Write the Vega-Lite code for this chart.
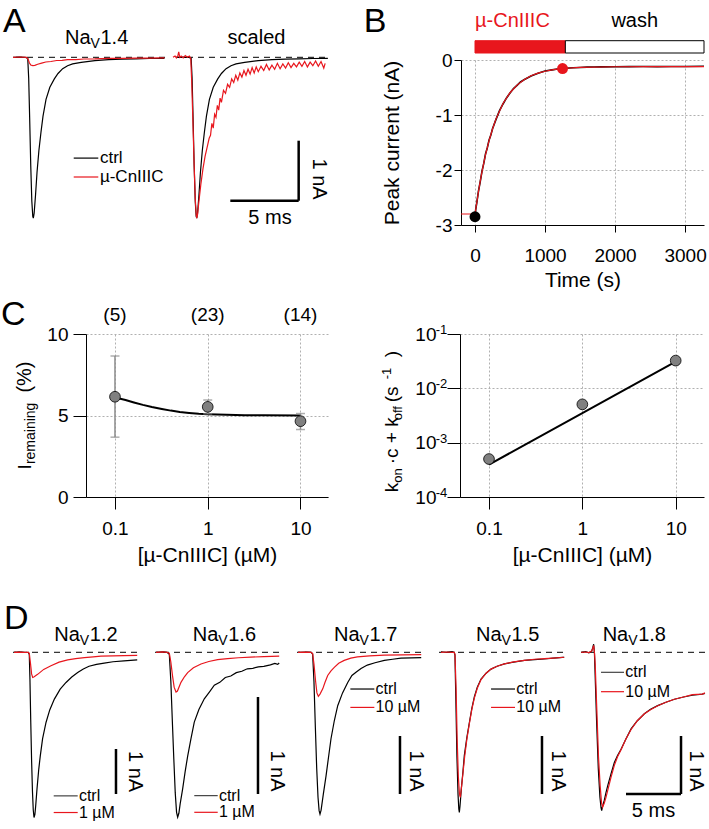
{
"$schema": "https://vega.github.io/schema/vega-lite/v6.json",
"padding": 0,
"background": "white",
"config": {
 "font": "Liberation Sans",
 "view": {"stroke": null},
 "text": {"font": "Liberation Sans", "color": "black"},
 "axis": {"domainColor": "black", "tickColor": "black", "labelColor": "black", "titleColor": "black", "labelFont": "Liberation Sans", "titleFont": "Liberation Sans", "titleFontWeight": "normal", "labelFontSize": 19, "titleFontSize": 21, "gridDash": [2, 2], "gridColor": "#b0b0b0", "gridWidth": 1, "labelFlush": false, "labelOverlap": false}
},
"datasets": {
 "one": [{}],
 "sup": [{"k":0.1,"s":"-1"},{"k":0.01,"s":"-2"},{"k":0.001,"s":"-3"},{"k":0.0001,"s":"-4"}],
 "a14c": [{"t":0,"I":0},{"t":0.5,"I":0.003},{"t":0.9,"I":0},{"t":1.08,"I":-0.02},{"t":1.15,"I":-0.35},{"t":1.22,"I":-1.0},{"t":1.3,"I":-1.8},{"t":1.38,"I":-2.4},{"t":1.45,"I":-2.65},{"t":1.49,"I":-2.68},{"t":1.55,"I":-2.6},{"t":1.65,"I":-2.3},{"t":1.76,"I":-1.92},{"t":1.9,"I":-1.55},{"t":2.05,"I":-1.25},{"t":2.2,"I":-0.98},{"t":2.42,"I":-0.7},{"t":2.7,"I":-0.5},{"t":3.03,"I":-0.36},{"t":3.3,"I":-0.27},{"t":3.64,"I":-0.19},{"t":4.0,"I":-0.14},{"t":4.37,"I":-0.11},{"t":5.0,"I":-0.085},{"t":6.0,"I":-0.055},{"t":7.0,"I":-0.04},{"t":8.0,"I":-0.03},{"t":9.0,"I":-0.025},{"t":10.0,"I":-0.02},{"t":11.1,"I":-0.017}],
 "a14t": [{"t":0,"I":0},{"t":0.5,"I":0.005},{"t":1.0,"I":0},{"t":1.1,"I":-0.03},{"t":1.2,"I":-0.09},{"t":1.3,"I":-0.13},{"t":1.45,"I":-0.14},{"t":1.6,"I":-0.135},{"t":1.81,"I":-0.115},{"t":2.1,"I":-0.097},{"t":2.4,"I":-0.078},{"t":2.78,"I":-0.07},{"t":3.2,"I":-0.053},{"t":3.6,"I":-0.05},{"t":4.0,"I":-0.04},{"t":4.6,"I":-0.038},{"t":5.2,"I":-0.028},{"t":6.0,"I":-0.027},{"t":7.0,"I":-0.019},{"t":8.0,"I":-0.019},{"t":9.0,"I":-0.013},{"t":10.0,"I":-0.014},{"t":11.1,"I":-0.01}],
 "a14s": [{"t":-0.25,"I":0.0},{"t":-0.1,"I":0.02},{"t":0.0,"I":-0.01},{"t":0.1,"I":0.02},{"t":0.17,"I":0.09},{"t":0.25,"I":0.0},{"t":0.35,"I":0.02},{"t":0.5,"I":-0.01},{"t":0.65,"I":0.03},{"t":0.8,"I":0.0},{"t":0.95,"I":0.02},{"t":1.05,"I":-0.02},{"t":1.12,"I":-0.4},{"t":1.2,"I":-1.0},{"t":1.3,"I":-1.8},{"t":1.38,"I":-2.35},{"t":1.45,"I":-2.62},{"t":1.49,"I":-2.68},{"t":1.55,"I":-2.62},{"t":1.65,"I":-2.4},{"t":1.8,"I":-2.1},{"t":1.95,"I":-1.85},{"t":2.1,"I":-1.65},{"t":2.25,"I":-1.5},{"t":2.4,"I":-1.35},{"t":2.5,"I":-1.3},{"t":2.6,"I":-1.1},{"t":2.7,"I":-1.18},{"t":2.8,"I":-0.95},{"t":2.9,"I":-1.0},{"t":3.0,"I":-0.8},{"t":3.1,"I":-0.88},{"t":3.2,"I":-0.68},{"t":3.3,"I":-0.75},{"t":3.45,"I":-0.55},{"t":3.6,"I":-0.6},{"t":3.75,"I":-0.45},{"t":3.9,"I":-0.5},{"t":4.05,"I":-0.36},{"t":4.2,"I":-0.42},{"t":4.35,"I":-0.3},{"t":4.5,"I":-0.38},{"t":4.65,"I":-0.26},{"t":4.8,"I":-0.33},{"t":4.95,"I":-0.22},{"t":5.1,"I":-0.3},{"t":5.25,"I":-0.2},{"t":5.4,"I":-0.28},{"t":5.55,"I":-0.17},{"t":5.7,"I":-0.26},{"t":5.85,"I":-0.16},{"t":6.0,"I":-0.24},{"t":6.2,"I":-0.15},{"t":6.4,"I":-0.22},{"t":6.6,"I":-0.12},{"t":6.8,"I":-0.21},{"t":7.0,"I":-0.13},{"t":7.2,"I":-0.2},{"t":7.4,"I":-0.1},{"t":7.6,"I":-0.19},{"t":7.8,"I":-0.11},{"t":8.0,"I":-0.18},{"t":8.2,"I":-0.09},{"t":8.4,"I":-0.17},{"t":8.6,"I":-0.1},{"t":8.8,"I":-0.16},{"t":9.0,"I":-0.08},{"t":9.2,"I":-0.15},{"t":9.4,"I":-0.07},{"t":9.6,"I":-0.16},{"t":9.8,"I":-0.08},{"t":10.0,"I":-0.14},{"t":10.2,"I":-0.06},{"t":10.4,"I":-0.15},{"t":10.6,"I":-0.07},{"t":10.8,"I":-0.18},{"t":10.9,"I":-0.1}],
 "b": [{"t":0,"I":-2.85},{"t":10,"I":-2.72},{"t":25,"I":-2.6},{"t":50,"I":-2.38},{"t":75,"I":-2.21},{"t":100,"I":-2.02},{"t":125,"I":-1.88},{"t":150,"I":-1.71},{"t":175,"I":-1.6},{"t":200,"I":-1.46},{"t":225,"I":-1.37},{"t":250,"I":-1.25},{"t":300,"I":-1.08},{"t":350,"I":-0.92},{"t":400,"I":-0.8},{"t":450,"I":-0.69},{"t":500,"I":-0.6},{"t":550,"I":-0.52},{"t":600,"I":-0.46},{"t":650,"I":-0.4},{"t":700,"I":-0.36},{"t":800,"I":-0.29},{"t":900,"I":-0.24},{"t":1000,"I":-0.2},{"t":1100,"I":-0.18},{"t":1200,"I":-0.16},{"t":1300,"I":-0.15},{"t":1400,"I":-0.14},{"t":1500,"I":-0.135},{"t":1600,"I":-0.13},{"t":1700,"I":-0.128},{"t":1800,"I":-0.125},{"t":2000,"I":-0.122},{"t":2200,"I":-0.12},{"t":2400,"I":-0.118},{"t":2600,"I":-0.12},{"t":2800,"I":-0.117},{"t":3000,"I":-0.118},{"t":3270,"I":-0.115}],
 "bfit": [{"t":-200,"I":-2.8},{"t":0,"I":-2.8},{"t":25,"I":-2.596},{"t":50,"I":-2.39},{"t":75,"I":-2.2},{"t":100,"I":-2.03},{"t":150,"I":-1.72},{"t":200,"I":-1.47},{"t":250,"I":-1.254},{"t":300,"I":-1.07},{"t":400,"I":-0.79},{"t":500,"I":-0.595},{"t":600,"I":-0.456},{"t":700,"I":-0.358},{"t":800,"I":-0.287},{"t":900,"I":-0.239},{"t":1000,"I":-0.204},{"t":1100,"I":-0.179},{"t":1200,"I":-0.162},{"t":1300,"I":-0.15},{"t":1500,"I":-0.135},{"t":2000,"I":-0.123},{"t":2500,"I":-0.121},{"t":3000,"I":-0.12},{"t":3270,"I":-0.12}],
 "bpts": [{"state":"before","t":0,"I":-2.85},{"state":"after","t":1250,"I":-0.155}],
 "phases": [{"phase":"µ-CnIIIC","start":0,"end":1290},{"phase":"wash","start":1290,"end":3270}],
 "cI": [{"c":0.1,"v":6.15,"lo":3.67,"hi":8.65,"n":"(5)"},{"c":1,"v":5.53,"lo":5.1,"hi":5.95,"n":"(23)"},{"c":10,"v":4.65,"lo":4.14,"hi":5.12,"n":"(14)"}],
 "cfit": [{"c":0.1,"v":6.1},{"c":0.13,"v":5.95},{"c":0.16,"v":5.8},{"c":0.2,"v":5.65},{"c":0.25,"v":5.52},{"c":0.32,"v":5.4},{"c":0.4,"v":5.3},{"c":0.5,"v":5.22},{"c":0.63,"v":5.16},{"c":0.8,"v":5.11},{"c":1,"v":5.08},{"c":1.6,"v":5.04},{"c":2.5,"v":5.02},{"c":4,"v":5.01},{"c":10,"v":5.0}],
 "kpts": [{"c":0.1,"k":0.0005},{"c":1,"k":0.00507},{"c":10,"k":0.0324}],
 "kfit": [{"c":0.1,"k":0.000395},{"c":1,"k":0.0035},{"c":10,"k":0.031}],
 "d12c": [{"t":0,"I":0},{"t":0.5,"I":0.01},{"t":1.0,"I":-0.005},{"t":1.3,"I":0},{"t":1.39,"I":-0.05},{"t":1.45,"I":-0.6},{"t":1.52,"I":-1.5},{"t":1.6,"I":-2.4},{"t":1.68,"I":-3.1},{"t":1.75,"I":-3.5},{"t":1.82,"I":-3.67},{"t":1.9,"I":-3.6},{"t":1.97,"I":-3.42},{"t":2.09,"I":-3.04},{"t":2.25,"I":-2.6},{"t":2.39,"I":-2.3},{"t":2.6,"I":-1.92},{"t":2.91,"I":-1.56},{"t":3.25,"I":-1.28},{"t":3.67,"I":-1.04},{"t":4.2,"I":-0.82},{"t":4.73,"I":-0.67},{"t":5.25,"I":-0.55},{"t":5.79,"I":-0.45},{"t":6.3,"I":-0.37},{"t":6.82,"I":-0.31},{"t":7.5,"I":-0.27},{"t":8.2,"I":-0.24},{"t":9.0,"I":-0.21},{"t":10.0,"I":-0.19},{"t":11.2,"I":-0.17}],
 "d12t": [{"t":0,"I":0},{"t":0.5,"I":0.005},{"t":1.0,"I":0},{"t":1.3,"I":0},{"t":1.39,"I":-0.02},{"t":1.5,"I":-0.25},{"t":1.6,"I":-0.48},{"t":1.7,"I":-0.56},{"t":1.8,"I":-0.55},{"t":2.15,"I":-0.49},{"t":2.7,"I":-0.38},{"t":3.36,"I":-0.3},{"t":4.1,"I":-0.22},{"t":4.88,"I":-0.17},{"t":5.6,"I":-0.14},{"t":6.4,"I":-0.12},{"t":7.2,"I":-0.1},{"t":7.9,"I":-0.085},{"t":9.0,"I":-0.078},{"t":10.0,"I":-0.072},{"t":11.2,"I":-0.07}],
 "d16c": [{"t":0,"I":0},{"t":0.6,"I":0.005},{"t":1.0,"I":0},{"t":1.21,"I":-0.02},{"t":1.35,"I":-0.3},{"t":1.5,"I":-0.75},{"t":1.62,"I":-1.1},{"t":1.75,"I":-1.45},{"t":1.87,"I":-1.65},{"t":1.97,"I":-1.7},{"t":2.08,"I":-1.66},{"t":2.2,"I":-1.56},{"t":2.42,"I":-1.41},{"t":2.65,"I":-1.23},{"t":2.88,"I":-1.07},{"t":3.18,"I":-0.89},{"t":3.48,"I":-0.72},{"t":3.9,"I":-0.59},{"t":4.39,"I":-0.48},{"t":4.85,"I":-0.41},{"t":5.3,"I":-0.34},{"t":5.8,"I":-0.31},{"t":6.3,"I":-0.26},{"t":6.8,"I":-0.245},{"t":7.3,"I":-0.21},{"t":7.8,"I":-0.195},{"t":8.3,"I":-0.17},{"t":8.8,"I":-0.165},{"t":9.3,"I":-0.15},{"t":9.8,"I":-0.145},{"t":10.4,"I":-0.13},{"t":10.8,"I":-0.115},{"t":11.06,"I":-0.125},{"t":11.2,"I":-0.11}],
 "d16t": [{"t":0,"I":0},{"t":0.6,"I":0.005},{"t":1.0,"I":0},{"t":1.21,"I":-0.01},{"t":1.35,"I":-0.1},{"t":1.5,"I":-0.24},{"t":1.65,"I":-0.36},{"t":1.82,"I":-0.41},{"t":1.95,"I":-0.4},{"t":2.27,"I":-0.31},{"t":2.6,"I":-0.25},{"t":2.88,"I":-0.21},{"t":3.4,"I":-0.16},{"t":4.09,"I":-0.12},{"t":4.8,"I":-0.095},{"t":5.6,"I":-0.076},{"t":6.5,"I":-0.065},{"t":7.5,"I":-0.056},{"t":8.6,"I":-0.05},{"t":9.8,"I":-0.045},{"t":11.2,"I":-0.04}],
 "d17c": [{"t":0,"I":0},{"t":0.7,"I":0.005},{"t":1.2,"I":0},{"t":1.33,"I":-0.03},{"t":1.45,"I":-0.5},{"t":1.58,"I":-1.3},{"t":1.7,"I":-2.0},{"t":1.82,"I":-2.5},{"t":1.92,"I":-2.73},{"t":2.0,"I":-2.79},{"t":2.1,"I":-2.72},{"t":2.3,"I":-2.45},{"t":2.55,"I":-2.13},{"t":2.78,"I":-1.8},{"t":3.0,"I":-1.49},{"t":3.3,"I":-1.18},{"t":3.61,"I":-0.92},{"t":4.05,"I":-0.7},{"t":4.52,"I":-0.52},{"t":4.9,"I":-0.4},{"t":5.3,"I":-0.34},{"t":5.73,"I":-0.28},{"t":6.3,"I":-0.22},{"t":7.0,"I":-0.18},{"t":7.85,"I":-0.14},{"t":8.6,"I":-0.12},{"t":9.36,"I":-0.1},{"t":10.3,"I":-0.095},{"t":11.2,"I":-0.09}],
 "d17t": [{"t":0,"I":0},{"t":0.7,"I":0.003},{"t":1.2,"I":0},{"t":1.33,"I":-0.02},{"t":1.45,"I":-0.2},{"t":1.6,"I":-0.5},{"t":1.72,"I":-0.7},{"t":1.85,"I":-0.76},{"t":2.0,"I":-0.72},{"t":2.25,"I":-0.63},{"t":2.45,"I":-0.52},{"t":2.7,"I":-0.4},{"t":3.0,"I":-0.32},{"t":3.3,"I":-0.26},{"t":3.7,"I":-0.19},{"t":4.2,"I":-0.14},{"t":4.8,"I":-0.1},{"t":5.4,"I":-0.08},{"t":6.5,"I":-0.06},{"t":7.85,"I":-0.05},{"t":9.5,"I":-0.045},{"t":11.2,"I":-0.04}],
 "d15c": [{"t":0,"I":0.01},{"t":0.5,"I":0},{"t":1.0,"I":0.01},{"t":1.2,"I":0},{"t":1.27,"I":-0.05},{"t":1.35,"I":-0.8},{"t":1.45,"I":-1.8},{"t":1.55,"I":-2.45},{"t":1.62,"I":-2.7},{"t":1.67,"I":-2.76},{"t":1.73,"I":-2.65},{"t":1.85,"I":-2.35},{"t":2.0,"I":-2.05},{"t":2.12,"I":-1.78},{"t":2.35,"I":-1.47},{"t":2.58,"I":-1.21},{"t":2.8,"I":-0.97},{"t":3.03,"I":-0.77},{"t":3.3,"I":-0.6},{"t":3.64,"I":-0.46},{"t":4.1,"I":-0.36},{"t":4.55,"I":-0.29},{"t":5.1,"I":-0.24},{"t":5.76,"I":-0.2},{"t":6.6,"I":-0.17},{"t":7.58,"I":-0.14},{"t":8.5,"I":-0.125},{"t":9.4,"I":-0.115},{"t":10.2,"I":-0.1},{"t":11.06,"I":-0.086},{"t":11.2,"I":-0.085}],
 "d15t": [{"t":0,"I":0},{"t":0.5,"I":0.005},{"t":1.0,"I":0},{"t":1.2,"I":0},{"t":1.27,"I":-0.03},{"t":1.37,"I":-0.6},{"t":1.47,"I":-1.5},{"t":1.58,"I":-2.15},{"t":1.68,"I":-2.45},{"t":1.76,"I":-2.5},{"t":1.85,"I":-2.35},{"t":2.0,"I":-2.08},{"t":2.15,"I":-1.8},{"t":2.35,"I":-1.5},{"t":2.58,"I":-1.23},{"t":2.8,"I":-0.99},{"t":3.03,"I":-0.79},{"t":3.3,"I":-0.62},{"t":3.64,"I":-0.47},{"t":4.1,"I":-0.36},{"t":4.55,"I":-0.29},{"t":5.1,"I":-0.24},{"t":5.76,"I":-0.2},{"t":6.6,"I":-0.165},{"t":7.58,"I":-0.14},{"t":8.5,"I":-0.12},{"t":9.4,"I":-0.11},{"t":10.2,"I":-0.1},{"t":11.2,"I":-0.085}],
 "d18c": [{"t":0.2,"I":0},{"t":0.6,"I":0.01},{"t":0.9,"I":-0.01},{"t":1.15,"I":0.02},{"t":1.25,"I":0.08},{"t":1.33,"I":0.14},{"t":1.4,"I":0.0},{"t":1.45,"I":-0.3},{"t":1.6,"I":-1.2},{"t":1.75,"I":-2.0},{"t":1.9,"I":-2.5},{"t":2.0,"I":-2.68},{"t":2.06,"I":-2.73},{"t":2.15,"I":-2.65},{"t":2.3,"I":-2.55},{"t":2.45,"I":-2.42},{"t":2.61,"I":-2.3},{"t":2.9,"I":-2.1},{"t":3.21,"I":-1.9},{"t":3.5,"I":-1.78},{"t":3.82,"I":-1.67},{"t":4.25,"I":-1.5},{"t":4.73,"I":-1.32},{"t":5.3,"I":-1.18},{"t":5.94,"I":-1.06},{"t":6.5,"I":-0.98},{"t":7.15,"I":-0.92},{"t":7.9,"I":-0.86},{"t":8.67,"I":-0.81},{"t":9.5,"I":-0.77},{"t":10.3,"I":-0.74},{"t":11.2,"I":-0.72},{"t":11.45,"I":-0.71}],
 "d18t": [{"t":0.2,"I":0},{"t":0.6,"I":0.005},{"t":0.9,"I":-0.005},{"t":1.15,"I":0.02},{"t":1.25,"I":0.07},{"t":1.33,"I":0.12},{"t":1.4,"I":0.0},{"t":1.47,"I":-0.2},{"t":1.62,"I":-1.0},{"t":1.77,"I":-1.8},{"t":1.92,"I":-2.3},{"t":2.05,"I":-2.6},{"t":2.15,"I":-2.67},{"t":2.3,"I":-2.6},{"t":2.45,"I":-2.5},{"t":2.61,"I":-2.38},{"t":2.9,"I":-2.16},{"t":3.21,"I":-1.95},{"t":3.5,"I":-1.8},{"t":3.82,"I":-1.68},{"t":4.25,"I":-1.5},{"t":4.73,"I":-1.33},{"t":5.3,"I":-1.18},{"t":5.94,"I":-1.06},{"t":6.5,"I":-0.99},{"t":7.15,"I":-0.92},{"t":7.9,"I":-0.86},{"t":8.67,"I":-0.81},{"t":9.5,"I":-0.77},{"t":10.3,"I":-0.73},{"t":11.2,"I":-0.72},{"t":11.45,"I":-0.7}]
},
"spacing": 0,
"vconcat": [
 {"bounds": "flush", "spacing": 0, "hconcat": [
  {"width": 152, "height": 165, "layer": [
   {"data": {"name": "one"}, "mark": {"type": "rule", "strokeDash": [6, 5], "color": "black", "strokeWidth": 1}, "encoding": {"y": {"datum": 0, "axis": null}}},
   {"data": {"name": "a14c"}, "mark": {"type": "line", "color": "black", "strokeWidth": 1.2}, "encoding": {"x": {"field": "t", "type": "quantitative", "scale": {"domain": [0, 11.14], "nice": false, "zero": false}, "axis": null}, "y": {"field": "I", "type": "quantitative", "scale": {"domain": [-2.795, -0.045], "nice": false, "zero": false}, "axis": null}}},
   {"data": {"name": "a14t"}, "mark": {"type": "line", "color": "#e8161d", "strokeWidth": 1.2}, "encoding": {"x": {"field": "t", "type": "quantitative", "axis": null}, "y": {"field": "I", "type": "quantitative", "axis": null}}},
   {"data": {"name": "one"}, "mark": {"type": "rule", "opacity": 0, "strokeWidth": 0}, "encoding": {"x": {"datum": -0.879, "axis": null}, "y": {"datum": 0.955, "axis": null}, "y2": {"datum": 0.955}}},
   {"data": {"name": "one"}, "mark": {"type": "rule", "opacity": 0, "strokeWidth": 0}, "encoding": {"x": {"datum": 5, "axis": null}, "y": {"datum": -3.962, "axis": null}, "y2": {"datum": -3.962}}},
   {"data": {"name": "one"}, "mark": {"type": "rule", "color": "black", "strokeWidth": 1.2}, "encoding": {"x": {"datum": 4.45, "axis": null}, "x2": {"datum": 6.25}, "y": {"datum": -1.68, "axis": null}}},
   {"data": {"name": "one"}, "mark": {"type": "rule", "color": "#e8161d", "strokeWidth": 1.2}, "encoding": {"x": {"datum": 4.45, "axis": null}, "x2": {"datum": 6.25}, "y": {"datum": -1.995, "axis": null}}},
   {"data": {"name": "one"}, "mark": {"type": "text", "text": "ctrl", "fontSize": 17, "align": "left", "baseline": "middle"}, "encoding": {"x": {"datum": 6.37, "axis": null}, "y": {"datum": -1.68, "axis": null}}},
   {"data": {"name": "one"}, "mark": {"type": "text", "text": "µ-CnIIIC", "fontSize": 17, "align": "left", "baseline": "middle"}, "encoding": {"x": {"datum": 6.37, "axis": null}, "y": {"datum": -1.995, "axis": null}}},
   {"data": {"name": "one"}, "mark": {"type": "text", "text": "Na", "fontSize": 20, "align": "left", "baseline": "alphabetic"}, "encoding": {"x": {"datum": 3.81, "axis": null}, "y": {"datum": 0.222, "axis": null}}},
   {"data": {"name": "one"}, "mark": {"type": "text", "text": "V", "fontSize": 14, "align": "left", "baseline": "alphabetic", "dx": 25.6, "dy": 4}, "encoding": {"x": {"datum": 3.81, "axis": null}, "y": {"datum": 0.222, "axis": null}}},
   {"data": {"name": "one"}, "mark": {"type": "text", "text": "1.4", "fontSize": 20, "align": "left", "baseline": "alphabetic", "dx": 35.5}, "encoding": {"x": {"datum": 3.81, "axis": null}, "y": {"datum": 0.222, "axis": null}}},
   {"data": {"name": "one"}, "mark": {"type": "text", "text": "A", "fontSize": 34, "align": "left", "baseline": "alphabetic"}, "encoding": {"x": {"datum": -0.73, "axis": null}, "y": {"datum": 0.42, "axis": null}}}
  ]},
  {"width": 8, "height": 1, "data": {"name": "one"}, "mark": {"type": "point", "opacity": 0}},
  {"width": 152, "height": 165, "layer": [
   {"data": {"name": "one"}, "mark": {"type": "rule", "strokeDash": [6, 5], "color": "black", "strokeWidth": 1}, "encoding": {"y": {"datum": 0, "axis": null}}},
   {"data": {"name": "a14c"}, "mark": {"type": "line", "color": "black", "strokeWidth": 1.2}, "encoding": {"x": {"field": "t", "type": "quantitative", "scale": {"domain": [-0.25, 10.89], "nice": false, "zero": false}, "axis": null}, "y": {"field": "I", "type": "quantitative", "scale": {"domain": [-2.795, -0.045], "nice": false, "zero": false}, "axis": null}}},
   {"data": {"name": "a14s"}, "mark": {"type": "line", "color": "#e8161d", "strokeWidth": 1.2}, "encoding": {"x": {"field": "t", "type": "quantitative", "axis": null}, "y": {"field": "I", "type": "quantitative", "axis": null}}},
   {"data": {"name": "one"}, "mark": {"type": "rule", "color": "black", "strokeWidth": 2.5}, "encoding": {"x": {"datum": 8.96, "axis": null}, "y": {"datum": -1.39, "axis": null}, "y2": {"datum": -2.39}}},
   {"data": {"name": "one"}, "mark": {"type": "rule", "color": "black", "strokeWidth": 2.5}, "encoding": {"x": {"datum": 3.95, "axis": null}, "x2": {"datum": 8.96}, "y": {"datum": -2.39, "axis": null}}},
   {"data": {"name": "one"}, "mark": {"type": "text", "text": "1 nA", "fontSize": 20, "angle": 90, "align": "center", "baseline": "middle"}, "encoding": {"x": {"datum": 10.45, "axis": null}, "y": {"datum": -2.03, "axis": null}}},
   {"data": {"name": "one"}, "mark": {"type": "text", "text": "5 ms", "fontSize": 20, "align": "center", "baseline": "top"}, "encoding": {"x": {"datum": 6.86, "axis": null}, "y": {"datum": -2.51, "axis": null}}},
   {"data": {"name": "one"}, "mark": {"type": "text", "text": "scaled", "fontSize": 20, "align": "center", "baseline": "alphabetic"}, "encoding": {"x": {"datum": 5.87, "axis": null}, "y": {"datum": 0.222, "axis": null}}}
  ]},
  {"width": 136, "height": 1, "data": {"name": "one"}, "mark": {"type": "point", "opacity": 0}},
  {"width": 243, "height": 165, "layer": [
   {"data": {"name": "b"}, "mark": {"type": "line", "color": "black", "strokeWidth": 1.6}, "encoding": {"x": {"field": "t", "type": "quantitative", "scale": {"domain": [-200, 3270], "nice": false, "zero": false}, "axis": {"values": [0, 1000, 2000, 3000], "format": "d", "title": "Time (s)", "grid": true, "tickSize": 7, "labelPadding": 14, "titlePadding": 4}}, "y": {"field": "I", "type": "quantitative", "scale": {"domain": [-3, 0], "nice": false, "zero": false}, "axis": {"values": [0, -1, -2, -3], "labelExpr": "datum.value < 0 ? '-' + (-datum.value) : '0'", "title": "Peak current (nA)", "grid": true, "tickSize": 7, "labelPadding": 2, "titlePadding": 33}}}},
   {"data": {"name": "bfit"}, "mark": {"type": "line", "color": "#e8161d", "strokeWidth": 1.2}, "encoding": {"x": {"field": "t", "type": "quantitative"}, "y": {"field": "I", "type": "quantitative"}}},
   {"data": {"name": "bpts"}, "mark": {"type": "circle", "size": 120, "opacity": 1}, "encoding": {"x": {"field": "t", "type": "quantitative"}, "y": {"field": "I", "type": "quantitative"}, "color": {"field": "state", "type": "nominal", "scale": {"domain": ["before", "after"], "range": ["#000000", "#e8161d"]}, "legend": null}}},
   {"data": {"name": "phases"}, "mark": {"type": "rect", "strokeWidth": 1}, "encoding": {"x": {"field": "start", "type": "quantitative"}, "x2": {"field": "end"}, "y": {"datum": 0.127}, "y2": {"datum": 0.351}, "fill": {"field": "phase", "type": "nominal", "scale": {"domain": ["µ-CnIIIC", "wash"], "range": ["#e8161d", "#ffffff"]}, "legend": null}, "stroke": {"field": "phase", "type": "nominal", "scale": {"domain": ["µ-CnIIIC", "wash"], "range": ["#e8161d", "#000000"]}, "legend": null}}},
   {"data": {"name": "one"}, "mark": {"type": "text", "text": "µ-CnIIIC", "fontSize": 20, "color": "#e8161d", "align": "left", "baseline": "alphabetic"}, "encoding": {"x": {"datum": 0}, "y": {"datum": 0.595}}},
   {"data": {"name": "one"}, "mark": {"type": "text", "text": "wash", "fontSize": 20, "align": "center", "baseline": "alphabetic"}, "encoding": {"x": {"datum": 2281}, "y": {"datum": 0.595}}},
   {"data": {"name": "one"}, "mark": {"type": "text", "text": "B", "fontSize": 34, "align": "left", "baseline": "alphabetic"}, "encoding": {"x": {"datum": -1590}, "y": {"datum": 0.509}}}
  ]}
 ]},
 {"bounds": "flush", "spacing": 0, "hconcat": [
  {"width": 73, "height": 1, "data": {"name": "one"}, "mark": {"type": "point", "opacity": 0}},
  {"width": 242, "height": 163, "layer": [
   {"data": {"name": "cfit"}, "mark": {"type": "line", "color": "black", "strokeWidth": 2}, "encoding": {"x": {"field": "c", "type": "quantitative", "scale": {"type": "log", "domain": [0.0487, 19.8], "nice": false}, "axis": {"values": [0.1, 1, 10], "format": "~g", "title": "[µ-CnIIIC] (µM)", "grid": true, "tickSize": 12, "labelPadding": 10, "titlePadding": 6}}, "y": {"field": "v", "type": "quantitative", "scale": {"domain": [0, 10], "nice": false, "zero": false}, "axis": {"values": [0, 5, 10], "title": null, "grid": true, "tickSize": 13, "labelPadding": 5}}}},
   {"data": {"name": "cI"}, "mark": {"type": "rule", "color": "#8c8c8c", "strokeWidth": 1.5}, "encoding": {"x": {"field": "c", "type": "quantitative"}, "y": {"field": "lo", "type": "quantitative"}, "y2": {"field": "hi"}}},
   {"data": {"name": "cI"}, "mark": {"type": "tick", "orient": "horizontal", "color": "#8c8c8c", "size": 9, "thickness": 1.5}, "encoding": {"x": {"field": "c", "type": "quantitative"}, "y": {"field": "lo", "type": "quantitative"}}},
   {"data": {"name": "cI"}, "mark": {"type": "tick", "orient": "horizontal", "color": "#8c8c8c", "size": 9, "thickness": 1.5}, "encoding": {"x": {"field": "c", "type": "quantitative"}, "y": {"field": "hi", "type": "quantitative"}}},
   {"data": {"name": "cI"}, "mark": {"type": "circle", "size": 115, "fill": "#808080", "stroke": "black", "strokeWidth": 0.8, "opacity": 1}, "encoding": {"x": {"field": "c", "type": "quantitative"}, "y": {"field": "v", "type": "quantitative"}}},
   {"data": {"name": "cI"}, "mark": {"type": "text", "fontSize": 19, "align": "center", "baseline": "alphabetic"}, "encoding": {"x": {"field": "c", "type": "quantitative"}, "y": {"datum": 10.8}, "text": {"field": "n"}}},
   {"data": {"name": "one"}, "mark": {"type": "rule", "opacity": 0, "strokeWidth": 0}, "encoding": {"x": {"datum": 0.00589}, "y": {"datum": 12.33}, "y2": {"datum": 12.33}}},
   {"data": {"name": "one"}, "mark": {"type": "rule", "opacity": 0, "strokeWidth": 0}, "encoding": {"x": {"datum": 1}, "y": {"datum": -6.196}, "y2": {"datum": -6.196}}},
   {"data": {"name": "one"}, "mark": {"type": "text", "text": "I", "fontSize": 19, "angle": 270, "align": "left", "baseline": "alphabetic"}, "encoding": {"x": {"datum": 0.0124}, "y": {"datum": 1.68}}},
   {"data": {"name": "one"}, "mark": {"type": "text", "text": "remaining", "fontSize": 14, "angle": 270, "align": "left", "baseline": "alphabetic", "dx": 5.5, "dy": 4}, "encoding": {"x": {"datum": 0.0124}, "y": {"datum": 1.68}}},
   {"data": {"name": "one"}, "mark": {"type": "text", "text": "(%)", "fontSize": 20, "angle": 270, "align": "left", "baseline": "alphabetic", "dx": 77}, "encoding": {"x": {"datum": 0.0124}, "y": {"datum": 1.68}}},
   {"data": {"name": "one"}, "mark": {"type": "text", "text": "C", "fontSize": 34, "align": "left", "baseline": "alphabetic"}, "encoding": {"x": {"datum": 0.00589}, "y": {"datum": 10.55}}}
  ]},
  {"width": 132, "height": 1, "data": {"name": "one"}, "mark": {"type": "point", "opacity": 0}},
  {"width": 244, "height": 163, "layer": [
   {"data": {"name": "kfit"}, "mark": {"type": "line", "color": "black", "strokeWidth": 2}, "encoding": {"x": {"field": "c", "type": "quantitative", "scale": {"type": "log", "domain": [0.0489, 20.1], "nice": false}, "axis": {"values": [0.1, 1, 10], "format": "~g", "title": "[µ-CnIIIC] (µM)", "grid": true, "tickSize": 12, "labelPadding": 10, "titlePadding": 6}}, "y": {"field": "k", "type": "quantitative", "scale": {"type": "log", "domain": [0.0001, 0.1], "nice": false}, "axis": {"values": [0.1, 0.01, 0.001, 0.0001], "labelExpr": "'10'", "title": null, "grid": true, "tickSize": 13, "labelPadding": 11}}}},
   {"data": {"name": "kpts"}, "mark": {"type": "circle", "size": 115, "fill": "#808080", "stroke": "black", "strokeWidth": 0.8, "opacity": 1}, "encoding": {"x": {"field": "c", "type": "quantitative"}, "y": {"field": "k", "type": "quantitative"}}},
   {"data": {"name": "sup"}, "mark": {"type": "text", "fontSize": 13, "align": "left", "baseline": "alphabetic", "dy": 0}, "encoding": {"x": {"datum": 0.02685}, "y": {"field": "k", "type": "quantitative"}, "text": {"field": "s"}}},
   {"data": {"name": "one"}, "mark": {"type": "text", "text": "k", "fontSize": 19, "angle": 270, "align": "left", "baseline": "alphabetic"}, "encoding": {"x": {"datum": 0.0105}, "y": {"datum": 0.000122}}},
   {"data": {"name": "one"}, "mark": {"type": "text", "text": "on", "fontSize": 13, "angle": 270, "align": "left", "baseline": "alphabetic", "dx": 9.5, "dy": 4}, "encoding": {"x": {"datum": 0.0105}, "y": {"datum": 0.000122}}},
   {"data": {"name": "one"}, "mark": {"type": "text", "text": "·c + k", "fontSize": 19, "angle": 270, "align": "left", "baseline": "alphabetic", "dx": 28}, "encoding": {"x": {"datum": 0.0105}, "y": {"datum": 0.000122}}},
   {"data": {"name": "one"}, "mark": {"type": "text", "text": "off", "fontSize": 13, "angle": 270, "align": "left", "baseline": "alphabetic", "dx": 72, "dy": 4}, "encoding": {"x": {"datum": 0.0105}, "y": {"datum": 0.000122}}},
   {"data": {"name": "one"}, "mark": {"type": "text", "text": "(s", "fontSize": 19, "angle": 270, "align": "left", "baseline": "alphabetic", "dx": 90}, "encoding": {"x": {"datum": 0.0105}, "y": {"datum": 0.000122}}},
   {"data": {"name": "one"}, "mark": {"type": "text", "text": "-1", "fontSize": 13, "angle": 270, "align": "left", "baseline": "alphabetic", "dx": 113, "dy": -7}, "encoding": {"x": {"datum": 0.0105}, "y": {"datum": 0.000122}}},
   {"data": {"name": "one"}, "mark": {"type": "text", "text": ")", "fontSize": 19, "angle": 270, "align": "left", "baseline": "alphabetic", "dx": 135}, "encoding": {"x": {"datum": 0.0105}, "y": {"datum": 0.000122}}}
  ]}
 ]},
 {"bounds": "flush", "spacing": 18, "hconcat": [
  {"width": 124, "height": 170, "layer": [
   {"data": {"name": "one"}, "mark": {"type": "rule", "strokeDash": [6, 5], "color": "black", "strokeWidth": 1}, "encoding": {"y": {"datum": 0, "axis": null}}},
   {"data": {"name": "d12c"}, "mark": {"type": "line", "color": "black", "strokeWidth": 1.2}, "encoding": {"x": {"field": "t", "type": "quantitative", "scale": {"domain": [-0.09, 11.18], "nice": false, "zero": false}, "axis": null}, "y": {"field": "I", "type": "quantitative", "scale": {"domain": [-3.704, 0.073], "nice": false, "zero": false}, "axis": null}}},
   {"data": {"name": "d12t"}, "mark": {"type": "line", "color": "#e8161d", "strokeWidth": 1.2}, "encoding": {"x": {"field": "t", "type": "quantitative", "axis": null}, "y": {"field": "I", "type": "quantitative", "axis": null}}},
   {"data": {"name": "one"}, "mark": {"type": "rule", "opacity": 0, "strokeWidth": 0}, "encoding": {"x": {"datum": -1.181, "axis": null}, "y": {"datum": 1.184, "axis": null}, "y2": {"datum": 1.184}}},
   {"data": {"name": "one"}, "mark": {"type": "rule", "color": "black", "strokeWidth": 2.5}, "encoding": {"x": {"datum": 9.27, "axis": null}, "y": {"datum": -3.149, "axis": null}, "y2": {"datum": -2.149}}},
   {"data": {"name": "one"}, "mark": {"type": "text", "text": "1 nA", "fontSize": 20, "angle": 90, "align": "center", "baseline": "middle"}, "encoding": {"x": {"datum": 11.0, "axis": null}, "y": {"datum": -2.65, "axis": null}}},
   {"data": {"name": "one"}, "mark": {"type": "rule", "color": "#444444", "strokeWidth": 1.2}, "encoding": {"x": {"datum": 3.61, "axis": null}, "x2": {"datum": 5.79}, "y": {"datum": -3.19, "axis": null}}},
   {"data": {"name": "one"}, "mark": {"type": "rule", "color": "#e8161d", "strokeWidth": 1.2}, "encoding": {"x": {"datum": 3.61, "axis": null}, "x2": {"datum": 5.79}, "y": {"datum": -3.56, "axis": null}}},
   {"data": {"name": "one"}, "mark": {"type": "text", "text": "ctrl", "fontSize": 16, "align": "left", "baseline": "middle"}, "encoding": {"x": {"datum": 5.9, "axis": null}, "y": {"datum": -3.19, "axis": null}}},
   {"data": {"name": "one"}, "mark": {"type": "text", "text": "1 µM", "fontSize": 16, "align": "left", "baseline": "middle"}, "encoding": {"x": {"datum": 5.9, "axis": null}, "y": {"datum": -3.56, "axis": null}}},
   {"data": {"name": "one"}, "mark": {"type": "text", "text": "Na", "fontSize": 20, "align": "left", "baseline": "alphabetic"}, "encoding": {"x": {"datum": 3.66, "axis": null}, "y": {"datum": 0.251, "axis": null}}},
   {"data": {"name": "one"}, "mark": {"type": "text", "text": "V", "fontSize": 14, "align": "left", "baseline": "alphabetic", "dx": 25.6, "dy": 4}, "encoding": {"x": {"datum": 3.66, "axis": null}, "y": {"datum": 0.251, "axis": null}}},
   {"data": {"name": "one"}, "mark": {"type": "text", "text": "1.2", "fontSize": 20, "align": "left", "baseline": "alphabetic", "dx": 35.5}, "encoding": {"x": {"datum": 3.66, "axis": null}, "y": {"datum": 0.251, "axis": null}}},
   {"data": {"name": "one"}, "mark": {"type": "text", "text": "D", "fontSize": 34, "align": "left", "baseline": "alphabetic"}, "encoding": {"x": {"datum": -0.91, "axis": null}, "y": {"datum": 0.518, "axis": null}}}
  ]},
  {"width": 124, "height": 170, "layer": [
   {"data": {"name": "one"}, "mark": {"type": "rule", "strokeDash": [6, 5], "color": "black", "strokeWidth": 1}, "encoding": {"y": {"datum": 0, "axis": null}}},
   {"data": {"name": "d16c"}, "mark": {"type": "line", "color": "black", "strokeWidth": 1.2}, "encoding": {"x": {"field": "t", "type": "quantitative", "scale": {"domain": [-0.09, 11.18], "nice": false, "zero": false}, "axis": null}, "y": {"field": "I", "type": "quantitative", "scale": {"domain": [-1.719, 0.034], "nice": false, "zero": false}, "axis": null}}},
   {"data": {"name": "d16t"}, "mark": {"type": "line", "color": "#e8161d", "strokeWidth": 1.2}, "encoding": {"x": {"field": "t", "type": "quantitative", "axis": null}, "y": {"field": "I", "type": "quantitative", "axis": null}}},
   {"data": {"name": "one"}, "mark": {"type": "rule", "color": "black", "strokeWidth": 2.5}, "encoding": {"x": {"datum": 9.27, "axis": null}, "y": {"datum": -1.461, "axis": null}, "y2": {"datum": -0.461}}},
   {"data": {"name": "one"}, "mark": {"type": "text", "text": "1 nA", "fontSize": 20, "angle": 90, "align": "center", "baseline": "middle"}, "encoding": {"x": {"datum": 11.0, "axis": null}, "y": {"datum": -1.224, "axis": null}}},
   {"data": {"name": "one"}, "mark": {"type": "rule", "color": "#444444", "strokeWidth": 1.2}, "encoding": {"x": {"datum": 3.48, "axis": null}, "x2": {"datum": 5.61}, "y": {"datum": -1.478, "axis": null}}},
   {"data": {"name": "one"}, "mark": {"type": "rule", "color": "#e8161d", "strokeWidth": 1.2}, "encoding": {"x": {"datum": 3.48, "axis": null}, "x2": {"datum": 5.61}, "y": {"datum": -1.65, "axis": null}}},
   {"data": {"name": "one"}, "mark": {"type": "text", "text": "ctrl", "fontSize": 16, "align": "left", "baseline": "middle"}, "encoding": {"x": {"datum": 5.72, "axis": null}, "y": {"datum": -1.478, "axis": null}}},
   {"data": {"name": "one"}, "mark": {"type": "text", "text": "1 µM", "fontSize": 16, "align": "left", "baseline": "middle"}, "encoding": {"x": {"datum": 5.72, "axis": null}, "y": {"datum": -1.65, "axis": null}}},
   {"data": {"name": "one"}, "mark": {"type": "text", "text": "Na", "fontSize": 20, "align": "left", "baseline": "alphabetic"}, "encoding": {"x": {"datum": 3.34, "axis": null}, "y": {"datum": 0.1165, "axis": null}}},
   {"data": {"name": "one"}, "mark": {"type": "text", "text": "V", "fontSize": 14, "align": "left", "baseline": "alphabetic", "dx": 25.6, "dy": 4}, "encoding": {"x": {"datum": 3.34, "axis": null}, "y": {"datum": 0.1165, "axis": null}}},
   {"data": {"name": "one"}, "mark": {"type": "text", "text": "1.6", "fontSize": 20, "align": "left", "baseline": "alphabetic", "dx": 35.5}, "encoding": {"x": {"datum": 3.34, "axis": null}, "y": {"datum": 0.1165, "axis": null}}}
  ]},
  {"width": 124, "height": 170, "layer": [
   {"data": {"name": "one"}, "mark": {"type": "rule", "strokeDash": [6, 5], "color": "black", "strokeWidth": 1}, "encoding": {"y": {"datum": 0, "axis": null}}},
   {"data": {"name": "d17c"}, "mark": {"type": "line", "color": "black", "strokeWidth": 1.2}, "encoding": {"x": {"field": "t", "type": "quantitative", "scale": {"domain": [-0.09, 11.18], "nice": false, "zero": false}, "axis": null}, "y": {"field": "I", "type": "quantitative", "scale": {"domain": [-2.874, 0.057], "nice": false, "zero": false}, "axis": null}}},
   {"data": {"name": "d17t"}, "mark": {"type": "line", "color": "#e8161d", "strokeWidth": 1.2}, "encoding": {"x": {"field": "t", "type": "quantitative", "axis": null}, "y": {"field": "I", "type": "quantitative", "axis": null}}},
   {"data": {"name": "one"}, "mark": {"type": "rule", "color": "black", "strokeWidth": 2.5}, "encoding": {"x": {"datum": 9.27, "axis": null}, "y": {"datum": -2.443, "axis": null}, "y2": {"datum": -1.443}}},
   {"data": {"name": "one"}, "mark": {"type": "text", "text": "1 nA", "fontSize": 20, "angle": 90, "align": "center", "baseline": "middle"}, "encoding": {"x": {"datum": 10.7, "axis": null}, "y": {"datum": -2.047, "axis": null}}},
   {"data": {"name": "one"}, "mark": {"type": "rule", "color": "black", "strokeWidth": 1.2}, "encoding": {"x": {"datum": 4.76, "axis": null}, "x2": {"datum": 6.94}, "y": {"datum": -0.633, "axis": null}}},
   {"data": {"name": "one"}, "mark": {"type": "rule", "color": "#e8161d", "strokeWidth": 1.2}, "encoding": {"x": {"datum": 4.76, "axis": null}, "x2": {"datum": 6.94}, "y": {"datum": -0.95, "axis": null}}},
   {"data": {"name": "one"}, "mark": {"type": "text", "text": "ctrl", "fontSize": 16, "align": "left", "baseline": "middle"}, "encoding": {"x": {"datum": 7.05, "axis": null}, "y": {"datum": -0.633, "axis": null}}},
   {"data": {"name": "one"}, "mark": {"type": "text", "text": "10 µM", "fontSize": 16, "align": "left", "baseline": "middle"}, "encoding": {"x": {"datum": 7.05, "axis": null}, "y": {"datum": -0.95, "axis": null}}},
   {"data": {"name": "one"}, "mark": {"type": "text", "text": "Na", "fontSize": 20, "align": "left", "baseline": "alphabetic"}, "encoding": {"x": {"datum": 3.27, "axis": null}, "y": {"datum": 0.195, "axis": null}}},
   {"data": {"name": "one"}, "mark": {"type": "text", "text": "V", "fontSize": 14, "align": "left", "baseline": "alphabetic", "dx": 25.6, "dy": 4}, "encoding": {"x": {"datum": 3.27, "axis": null}, "y": {"datum": 0.195, "axis": null}}},
   {"data": {"name": "one"}, "mark": {"type": "text", "text": "1.7", "fontSize": 20, "align": "left", "baseline": "alphabetic", "dx": 35.5}, "encoding": {"x": {"datum": 3.27, "axis": null}, "y": {"datum": 0.195, "axis": null}}}
  ]},
  {"width": 124, "height": 170, "layer": [
   {"data": {"name": "one"}, "mark": {"type": "rule", "strokeDash": [6, 5], "color": "black", "strokeWidth": 1}, "encoding": {"y": {"datum": 0, "axis": null}}},
   {"data": {"name": "d15c"}, "mark": {"type": "line", "color": "black", "strokeWidth": 1.2}, "encoding": {"x": {"field": "t", "type": "quantitative", "scale": {"domain": [-0.18, 11.09], "nice": false, "zero": false}, "axis": null}, "y": {"field": "I", "type": "quantitative", "scale": {"domain": [-2.874, 0.057], "nice": false, "zero": false}, "axis": null}}},
   {"data": {"name": "d15t"}, "mark": {"type": "line", "color": "#e8161d", "strokeWidth": 1.2}, "encoding": {"x": {"field": "t", "type": "quantitative", "axis": null}, "y": {"field": "I", "type": "quantitative", "axis": null}}},
   {"data": {"name": "one"}, "mark": {"type": "rule", "color": "black", "strokeWidth": 2.5}, "encoding": {"x": {"datum": 9.18, "axis": null}, "y": {"datum": -2.443, "axis": null}, "y2": {"datum": -1.443}}},
   {"data": {"name": "one"}, "mark": {"type": "text", "text": "1 nA", "fontSize": 20, "angle": 90, "align": "center", "baseline": "middle"}, "encoding": {"x": {"datum": 10.6, "axis": null}, "y": {"datum": -2.047, "axis": null}}},
   {"data": {"name": "one"}, "mark": {"type": "rule", "color": "black", "strokeWidth": 1.2}, "encoding": {"x": {"datum": 4.55, "axis": null}, "x2": {"datum": 6.73}, "y": {"datum": -0.633, "axis": null}}},
   {"data": {"name": "one"}, "mark": {"type": "rule", "color": "#e8161d", "strokeWidth": 1.2}, "encoding": {"x": {"datum": 4.55, "axis": null}, "x2": {"datum": 6.73}, "y": {"datum": -0.95, "axis": null}}},
   {"data": {"name": "one"}, "mark": {"type": "text", "text": "ctrl", "fontSize": 16, "align": "left", "baseline": "middle"}, "encoding": {"x": {"datum": 6.84, "axis": null}, "y": {"datum": -0.633, "axis": null}}},
   {"data": {"name": "one"}, "mark": {"type": "text", "text": "10 µM", "fontSize": 16, "align": "left", "baseline": "middle"}, "encoding": {"x": {"datum": 6.84, "axis": null}, "y": {"datum": -0.95, "axis": null}}},
   {"data": {"name": "one"}, "mark": {"type": "text", "text": "Na", "fontSize": 20, "align": "left", "baseline": "alphabetic"}, "encoding": {"x": {"datum": 3.18, "axis": null}, "y": {"datum": 0.195, "axis": null}}},
   {"data": {"name": "one"}, "mark": {"type": "text", "text": "V", "fontSize": 14, "align": "left", "baseline": "alphabetic", "dx": 25.6, "dy": 4}, "encoding": {"x": {"datum": 3.18, "axis": null}, "y": {"datum": 0.195, "axis": null}}},
   {"data": {"name": "one"}, "mark": {"type": "text", "text": "1.5", "fontSize": 20, "align": "left", "baseline": "alphabetic", "dx": 35.5}, "encoding": {"x": {"datum": 3.18, "axis": null}, "y": {"datum": 0.195, "axis": null}}}
  ]},
  {"width": 124, "height": 170, "layer": [
   {"data": {"name": "one"}, "mark": {"type": "rule", "strokeDash": [6, 5], "color": "black", "strokeWidth": 1}, "encoding": {"y": {"datum": 0, "axis": null}}},
   {"data": {"name": "d18c"}, "mark": {"type": "line", "color": "black", "strokeWidth": 1.2}, "encoding": {"x": {"field": "t", "type": "quantitative", "scale": {"domain": [0.18, 11.45], "nice": false, "zero": false}, "axis": null}, "y": {"field": "I", "type": "quantitative", "scale": {"domain": [-2.874, 0.057], "nice": false, "zero": false}, "axis": null}}},
   {"data": {"name": "d18t"}, "mark": {"type": "line", "color": "#e8161d", "strokeWidth": 1.2}, "encoding": {"x": {"field": "t", "type": "quantitative", "axis": null}, "y": {"field": "I", "type": "quantitative", "axis": null}}},
   {"data": {"name": "one"}, "mark": {"type": "rule", "color": "black", "strokeWidth": 2.5}, "encoding": {"x": {"datum": 9.27, "axis": null}, "y": {"datum": -2.443, "axis": null}, "y2": {"datum": -1.443}}},
   {"data": {"name": "one"}, "mark": {"type": "rule", "color": "black", "strokeWidth": 2.5}, "encoding": {"x": {"datum": 4.27, "axis": null}, "x2": {"datum": 9.27}, "y": {"datum": -2.443, "axis": null}}},
   {"data": {"name": "one"}, "mark": {"type": "text", "text": "1 nA", "fontSize": 20, "angle": 90, "align": "center", "baseline": "middle"}, "encoding": {"x": {"datum": 10.63, "axis": null}, "y": {"datum": -2.047, "axis": null}}},
   {"data": {"name": "one"}, "mark": {"type": "text", "text": "5 ms", "fontSize": 20, "align": "center", "baseline": "top"}, "encoding": {"x": {"datum": 6.77, "axis": null}, "y": {"datum": -2.564, "axis": null}}},
   {"data": {"name": "one"}, "mark": {"type": "rule", "color": "#444444", "strokeWidth": 1.2}, "encoding": {"x": {"datum": 2.0, "axis": null}, "x2": {"datum": 4.09}, "y": {"datum": -0.345, "axis": null}}},
   {"data": {"name": "one"}, "mark": {"type": "rule", "color": "#e8161d", "strokeWidth": 1.2}, "encoding": {"x": {"datum": 2.0, "axis": null}, "x2": {"datum": 4.09}, "y": {"datum": -0.679, "axis": null}}},
   {"data": {"name": "one"}, "mark": {"type": "text", "text": "ctrl", "fontSize": 16, "align": "left", "baseline": "middle"}, "encoding": {"x": {"datum": 4.2, "axis": null}, "y": {"datum": -0.345, "axis": null}}},
   {"data": {"name": "one"}, "mark": {"type": "text", "text": "10 µM", "fontSize": 16, "align": "left", "baseline": "middle"}, "encoding": {"x": {"datum": 4.2, "axis": null}, "y": {"datum": -0.679, "axis": null}}},
   {"data": {"name": "one"}, "mark": {"type": "text", "text": "Na", "fontSize": 20, "align": "left", "baseline": "alphabetic"}, "encoding": {"x": {"datum": 2.15, "axis": null}, "y": {"datum": 0.195, "axis": null}}},
   {"data": {"name": "one"}, "mark": {"type": "text", "text": "V", "fontSize": 14, "align": "left", "baseline": "alphabetic", "dx": 25.6, "dy": 4}, "encoding": {"x": {"datum": 2.15, "axis": null}, "y": {"datum": 0.195, "axis": null}}},
   {"data": {"name": "one"}, "mark": {"type": "text", "text": "1.8", "fontSize": 20, "align": "left", "baseline": "alphabetic", "dx": 35.5}, "encoding": {"x": {"datum": 2.15, "axis": null}, "y": {"datum": 0.195, "axis": null}}}
  ]}
 ]}
]
}
